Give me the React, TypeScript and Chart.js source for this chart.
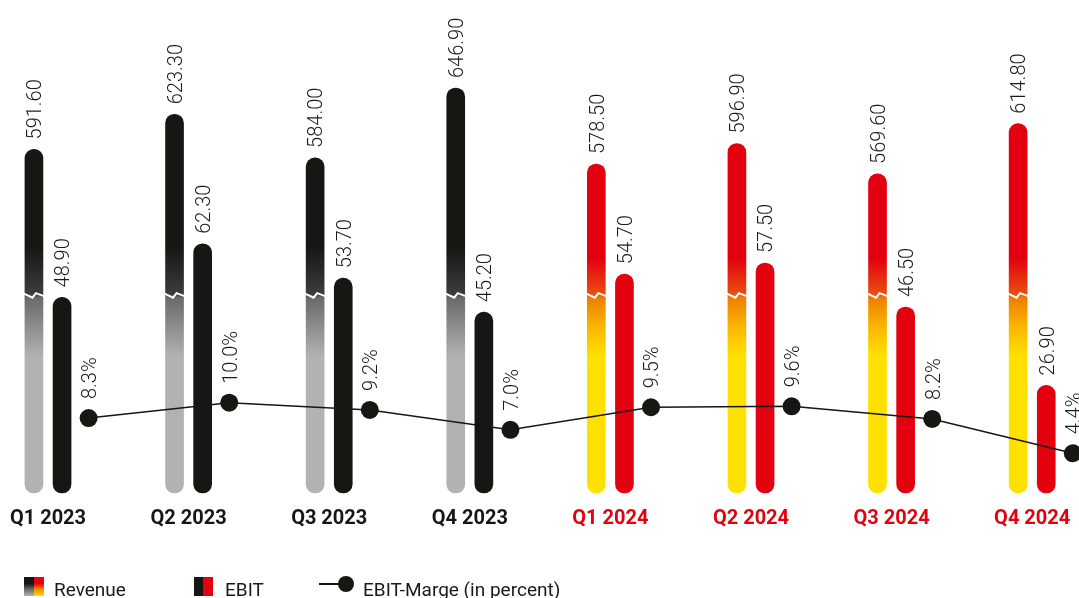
import React, { useEffect, useRef } from 'react';
import { Chart, registerables } from 'chart.js';

Chart.register(...registerables);

// ---------- data ----------
const categories = ['Q1 2023', 'Q2 2023', 'Q3 2023', 'Q4 2023', 'Q1 2024', 'Q2 2024', 'Q3 2024', 'Q4 2024'];
const revenue = [591.6, 623.3, 584.0, 646.9, 578.5, 596.9, 569.6, 614.8];
const ebit = [48.9, 62.3, 53.7, 45.2, 54.7, 57.5, 46.5, 26.9];
const ebitMargin = [8.3, 10.0, 9.2, 7.0, 9.5, 9.6, 8.2, 4.4];
const legendLabels = ['Revenue', 'EBIT', 'EBIT-Marge (in percent)'];

// ---------- axis ranges (broken revenue axis) ----------
const REV_MIN = 282.4;
const REV_MAX = 708.1;
const EBIT_MAX = 118.25;
const PCT_MAX = 52.4;
const BREAK_VALUE = 460; // revenue-axis value where the axis break is drawn

// ---------- styles ----------
const BLACK = '#161613';
const RED = '#e3000f';
const FONT = 'Roboto, "Liberation Sans", sans-serif';
const REV_OFFSET = -0.1;
const EBIT_OFFSET = 0.1;
const PCT_OFFSET = 0.289;

const is2024 = (i: number) => categories[i].endsWith('2024');

const grayStops: [number, string][] = [
  [708, BLACK],
  [504, BLACK],
  [461.5, '#3c3c3c'],
  [458, '#6a6a6a'],
  [405, '#b2b2b2'],
  [282, '#b2b2b2'],
];
const warmStops: [number, string][] = [
  [708, RED],
  [494, RED],
  [461.5, '#e94e0f'],
  [458, '#ef7d00'],
  [434, '#f9b200'],
  [405, '#ffe100'],
  [282, '#ffe100'],
];

const gradCache: Record<string, CanvasGradient> = {};

function revColor(ctx: any) {
  const chart = ctx.chart;
  const area = chart.chartArea;
  const i = ctx.dataIndex ?? 0;
  if (!area) return is2024(i) ? RED : BLACK;
  const ys = chart.scales.yRev;
  const warm = is2024(i);
  const key = (warm ? 'w' : 'g') + area.top + '_' + area.bottom;
  if (gradCache[key]) return gradCache[key];
  const g = chart.ctx.createLinearGradient(0, area.top, 0, area.bottom);
  const h = area.bottom - area.top;
  (warm ? warmStops : grayStops).forEach(([v, c]) => {
    const f = Math.min(1, Math.max(0, (ys.getPixelForValue(v) - area.top) / h));
    g.addColorStop(f, c);
  });
  gradCache[key] = g;
  return g;
}

const labelPlugin = {
  id: 'valueLabels',
  afterDatasetsDraw(chart: any) {
    const c = chart.ctx;
    c.save();
    // axis-break zigzags on revenue bars
    const revMeta = chart.getDatasetMeta(0);
    const yBreak = chart.scales.yRev.getPixelForValue(BREAK_VALUE);
    c.strokeStyle = '#ffffff';
    c.lineWidth = 2;
    c.lineJoin = 'miter';
    revMeta.data.forEach((el: any) => {
      const w = el.width;
      const x = el.x;
      c.beginPath();
      c.moveTo(x - w / 2 - 1, yBreak - 2);
      c.lineTo(x - 1.5, yBreak + 2);
      c.lineTo(x + 2, yBreak - 2.5);
      c.lineTo(x + w / 2 + 1, yBreak + 0.5);
      c.stroke();
    });

    c.fillStyle = '#1a1a17';
    c.font = '300 20px ' + FONT;
    c.textAlign = 'left';
    c.textBaseline = 'alphabetic';
    const drawRot = (text: string, x: number, y: number) => {
      c.save();
      c.translate(x + 7.3, y);
      c.rotate(-Math.PI / 2);
      c.fillText(text, 0, 0);
      c.restore();
    };
    [0, 1].forEach((di) => {
      const meta = chart.getDatasetMeta(di);
      const vals = di === 0 ? revenue : ebit;
      meta.data.forEach((el: any, i: number) => {
        drawRot(vals[i].toFixed(2), el.x, el.y - 10);
      });
    });
    const pMeta = chart.getDatasetMeta(2);
    pMeta.data.forEach((el: any, i: number) => {
      drawRot(ebitMargin[i].toFixed(1) + '%', el.x, el.y - 19);
    });
    c.restore();
  },
};

export default function App() {
  const ref = useRef<HTMLCanvasElement | null>(null);

  useEffect(() => {
    if (!ref.current) return;
    const chart = new Chart(ref.current, {
      type: 'bar',
      data: {
        datasets: [
          {
            type: 'bar',
            label: legendLabels[0],
            data: revenue.map((v, i) => ({ x: i + REV_OFFSET, y: v })),
            yAxisID: 'yRev',
            base: REV_MIN,
            backgroundColor: revColor as any,
            barThickness: 18,
            borderRadius: 9,
            borderSkipped: false,
            grouped: false,
            clip: false,
            order: 2,
          } as any,
          {
            type: 'bar',
            label: legendLabels[1],
            data: ebit.map((v, i) => ({ x: i + EBIT_OFFSET, y: v })),
            yAxisID: 'yEbit',
            base: 0,
            backgroundColor: ebit.map((_, i) => (is2024(i) ? RED : BLACK)),
            barThickness: 18,
            borderRadius: 9,
            borderSkipped: false,
            grouped: false,
            clip: false,
            order: 2,
          } as any,
          {
            type: 'line',
            label: legendLabels[2],
            data: ebitMargin.map((v, i) => ({ x: i + PCT_OFFSET, y: v })),
            yAxisID: 'yPct',
            borderColor: BLACK,
            borderWidth: 1.5,
            pointRadius: 9,
            pointBackgroundColor: BLACK,
            pointBorderWidth: 0,
            tension: 0,
            clip: false,
            order: 0,
          } as any,
        ],
      },
      options: {
        responsive: false,
        animation: false,
        events: [],
        layout: { autoPadding: false, padding: { top: 20, bottom: 0, left: 0, right: 0 } },
        plugins: {
          legend: { display: false },
          tooltip: { enabled: false },
        },
        scales: {
          x: {
            type: 'linear',
            offset: false,
            min: -0.3414,
            max: 7.333,
            grid: { display: false, offset: false },
            border: { display: false },
            afterBuildTicks: (scale: any) => {
              scale.ticks = categories.map((_, i) => ({ value: i }));
            },
            afterFit: (scale: any) => {
              scale.height = 105;
            },
            ticks: {
              autoSkip: false,
              maxRotation: 0,
              padding: 6,
              font: { family: FONT, size: 20, weight: 'bold' },
              color: (ctx: any) => (is2024(Math.round(ctx.tick?.value ?? 0)) ? RED : BLACK),
              callback: (value: any) => categories[Math.round(Number(value))] ?? '',
            },
          } as any,
          yRev: { type: 'linear', display: false, min: REV_MIN, max: REV_MAX },
          yEbit: { type: 'linear', display: false, min: 0, max: EBIT_MAX },
          yPct: { type: 'linear', display: false, min: 0, max: PCT_MAX },
        },
      } as any,
      plugins: [labelPlugin],
    });
    return () => chart.destroy();
  }, []);

  const textStyle: React.CSSProperties = {
    position: 'absolute',
    top: 580,
    font: '19px ' + FONT,
    lineHeight: '19px',
    color: '#1a1a17',
    whiteSpace: 'nowrap',
  };

  return (
    <div style={{ position: 'absolute', left: 0, top: 0, width: 1079, height: 598, overflow: 'hidden', background: '#fff' }}>
      <canvas ref={ref} width={1079} height={598} style={{ position: 'absolute', left: 0, top: 0, width: 1079, height: 598 }} />
      {/* legend */}
      <div style={{ position: 'absolute', left: 24, top: 577, width: 10, height: 19, background: `linear-gradient(${BLACK} 0%, ${BLACK} 35%, #6a6a6a 65%, #b2b2b2 100%)` }} />
      <div style={{ position: 'absolute', left: 34, top: 577, width: 10, height: 19, background: `linear-gradient(${RED} 0%, ${RED} 35%, #ef7d00 60%, #ffe100 100%)` }} />
      <span style={{ ...textStyle, left: 54 }}>{legendLabels[0]}</span>
      <div style={{ position: 'absolute', left: 194, top: 577, width: 9, height: 19, background: BLACK }} />
      <div style={{ position: 'absolute', left: 203, top: 577, width: 10, height: 19, background: RED }} />
      <span style={{ ...textStyle, left: 225 }}>{legendLabels[1]}</span>
      <div style={{ position: 'absolute', left: 319, top: 583, width: 22, height: 1.5, background: BLACK }} />
      <div style={{ position: 'absolute', left: 338, top: 576, width: 16, height: 16, borderRadius: '50%', background: BLACK }} />
      <span style={{ ...textStyle, left: 363 }}>{legendLabels[2]}</span>
    </div>
  );
}
